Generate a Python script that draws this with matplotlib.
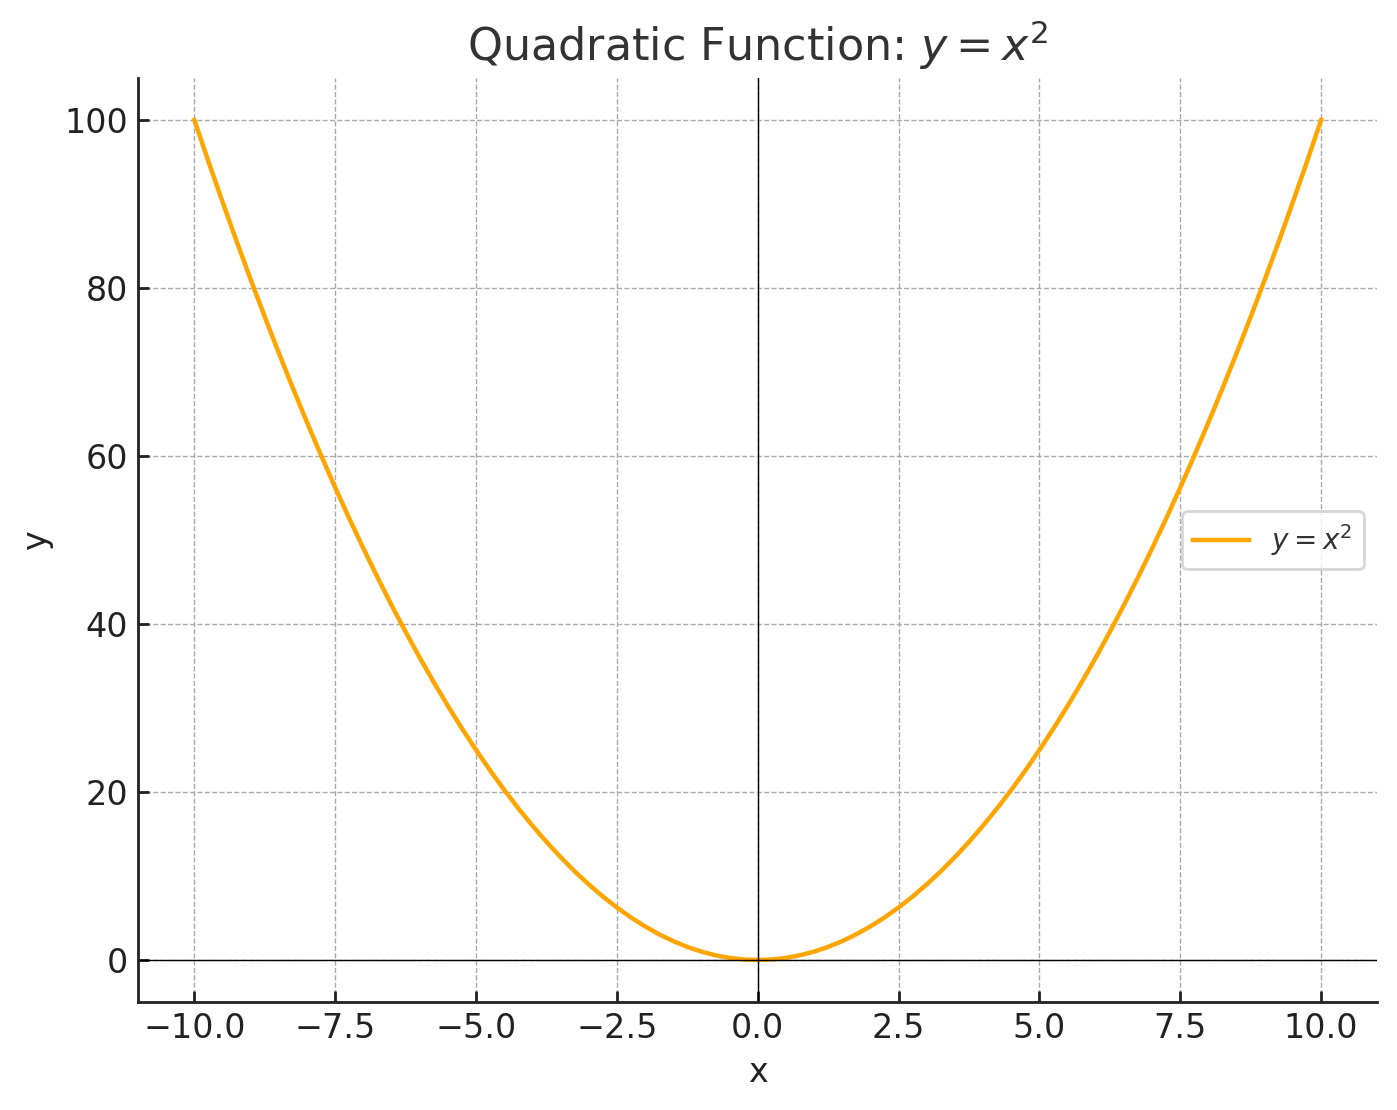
import matplotlib.pyplot as plt

# значення (крок 0.25)
x_vals = [-10.0, -9.75, -9.5, -9.25, -9.0, -8.75, -8.5, -8.25, -8.0, -7.75,
          -7.5, -7.25, -7.0, -6.75, -6.5, -6.25, -6.0, -5.75, -5.5, -5.25,
          -5.0, -4.75, -4.5, -4.25, -4.0, -3.75, -3.5, -3.25, -3.0, -2.75,
          -2.5, -2.25, -2.0, -1.75, -1.5, -1.25, -1.0, -0.75, -0.5, -0.25,
          0.0,
          0.25, 0.5, 0.75, 1.0, 1.25, 1.5, 1.75, 2.0, 2.25, 2.5,
          2.75, 3.0, 3.25, 3.5, 3.75, 4.0, 4.25, 4.5, 4.75, 5.0,
          5.25, 5.5, 5.75, 6.0, 6.25, 6.5, 6.75, 7.0, 7.25, 7.5,
          7.75, 8.0, 8.25, 8.5, 8.75, 9.0, 9.25, 9.5, 9.75, 10.0]
y_vals = [100.0, 95.06, 90.25, 85.56, 81.0, 76.56, 72.25, 68.06, 64.0, 60.06,
          56.25, 52.56, 49.0, 45.56, 42.25, 39.06, 36.0, 33.06, 30.25, 27.56,
          25.0, 22.56, 20.25, 18.06, 16.0, 14.06, 12.25, 10.56, 9.0, 7.56,
          6.25, 5.06, 4.0, 3.06, 2.25, 1.56, 1.0, 0.56, 0.25, 0.06,
          0.0,
          0.06, 0.25, 0.56, 1.0, 1.56, 2.25, 3.06, 4.0, 5.06, 6.25,
          7.56, 9.0, 10.56, 12.25, 14.06, 16.0, 18.06, 20.25, 22.56, 25.0,
          27.56, 30.25, 33.06, 36.0, 39.06, 42.25, 45.56, 49.0, 52.56, 56.25,
          60.06, 64.0, 68.06, 72.25, 76.56, 81.0, 85.56, 90.25, 95.06, 100.0]
x_ticks = [-10.0, -7.5, -5.0, -2.5, 0.0, 2.5, 5.0, 7.5, 10.0]
y_ticks = [0, 20, 40, 60, 80, 100]

fig = plt.figure(figsize=(6.985, 5.55), dpi=200)
ax = fig.add_axes([0.0988, 0.0973, 0.8872, 0.8324])

ax.plot(x_vals, y_vals, color='#FFA500', lw=1.6, label=r'$y = x^2$')
ax.axhline(0, color='black', lw=0.5)
ax.axvline(0, color='black', lw=0.5)

ax.set_xticks(x_ticks)
ax.set_yticks(y_ticks)
ax.tick_params(direction='in', length=4, width=1, labelsize=12, colors='#222222')
for s in ['top', 'right']:
    ax.spines[s].set_visible(False)
for s in ['left', 'bottom']:
    ax.spines[s].set_linewidth(1.0)
    ax.spines[s].set_color('#222222')

ax.grid(True, linestyle='--', color='#aaaaaa', lw=0.5)
ax.set_title(r'Quadratic Function: $y = x^2$', fontsize=16, color='#333333')
ax.set_xlabel('x', fontsize=12, color='#222222')
ax.set_ylabel('y', fontsize=12, color='#222222')
ax.legend(loc='center right', fontsize=10, frameon=True, fancybox=True,
          edgecolor='#cccccc', labelcolor='#333333')

fig.savefig('out.png', dpi=200)
